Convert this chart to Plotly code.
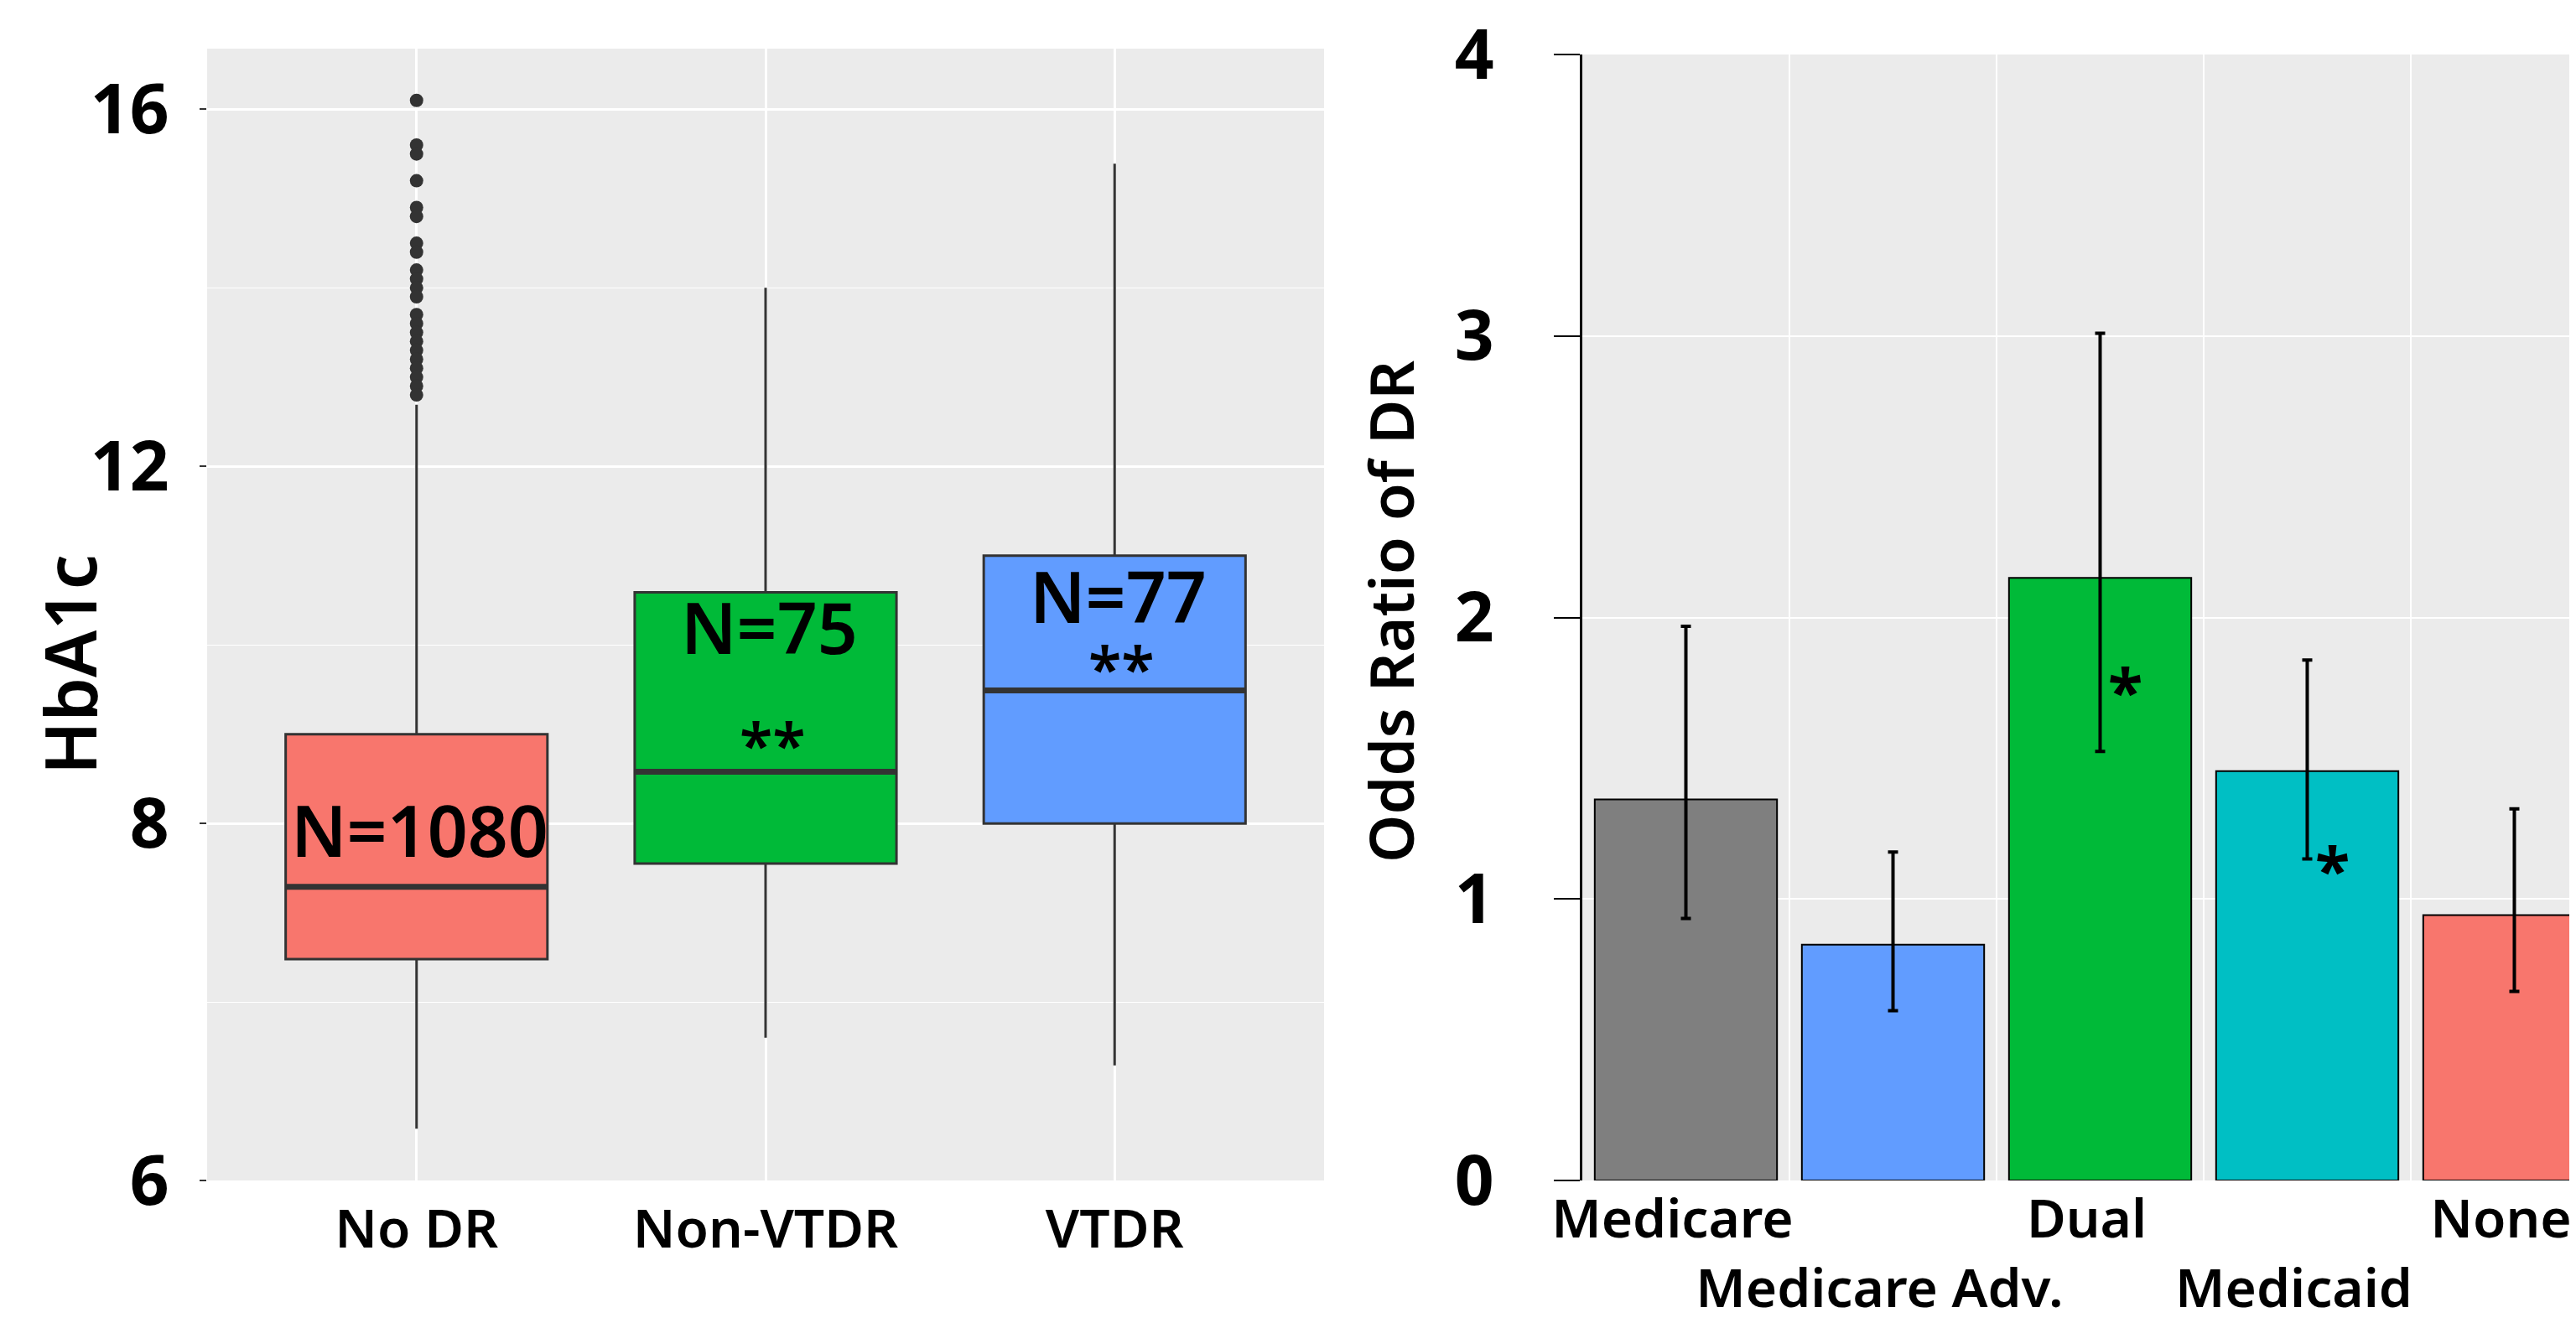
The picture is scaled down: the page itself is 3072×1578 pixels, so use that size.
import plotly.graph_objects as go

# ---------------- data: left panel (HbA1c box plots) ----------------
box_categories = ["No DR", "Non-VTDR", "VTDR"]
box_q1 = [6.48, 7.55, 8.00]
box_median = [7.29, 8.58, 9.49]
box_q3 = [9.00, 10.59, 11.00]
box_lower = [4.58, 5.60, 5.29]
box_upper = [12.69, 14.00, 15.39]
nodr_outliers = [16.1, 15.6, 15.5, 15.2, 14.9, 14.8, 14.5, 14.4, 14.2, 14.1, 14.0,
                 13.9, 13.7, 13.6, 13.5, 13.4, 13.3, 13.2, 13.1, 13.0, 12.9, 12.8]
n_labels = ["N=1080", "N=75", "N=77"]
sig_box = ["", "**", "**"]
left_tick_vals = [4, 8, 12, 16]
left_tick_text = ["6", "8", "12", "16"]
left_minor_vals = [6, 10, 14]

# ---------------- data: right panel (odds ratios) ----------------
or_categories = ["Medicare", "Medicare Adv.", "Dual", "Medicaid", "None"]
or_values = [1.354, 0.838, 2.141, 1.454, 0.943]
or_lower = [0.931, 0.603, 1.524, 1.142, 0.672]
or_upper = [1.969, 1.167, 3.010, 1.849, 1.320]
or_sig = ["", "", "*", "*", ""]
right_tick_vals = [0, 1, 2, 3, 4]

# ---------------- styling ----------------
box_colors = ["#F8766D", "#00BA38", "#619CFF"]
bar_colors = ["#7F7F7F", "#619CFF", "#00BA38", "#00BFC4", "#F8766D"]
n_label_y = [7.93, 10.20, 10.55]
sig_box_y = [0, 8.89, 9.75]
sig_bar_y = [0, 0, 1.745, 1.11, 0]
W, H = 3072, 1578
panel_bg = "#EBEBEB"
dark = "#333333"
label_font = "Noto Sans"

fig = go.Figure()

# Boxes
for i, cat in enumerate(box_categories):
    fig.add_trace(go.Box(
        x=[i], q1=[box_q1[i]], median=[box_median[i]], q3=[box_q3[i]],
        lowerfence=[box_lower[i]], upperfence=[box_upper[i]],
        fillcolor=box_colors[i], line=dict(color=dark, width=3),
        width=0.75, whiskerwidth=0, boxpoints=False,
        showlegend=False, hoverinfo="skip", xaxis="x", yaxis="y"))
    # thicker median line
    fig.add_trace(go.Scatter(
        x=[i - 0.375, i + 0.375], y=[box_median[i], box_median[i]],
        mode="lines", line=dict(color=dark, width=7),
        showlegend=False, hoverinfo="skip", xaxis="x", yaxis="y"))

# Outliers
fig.add_trace(go.Scatter(
    x=[0] * len(nodr_outliers), y=nodr_outliers, mode="markers",
    marker=dict(color=dark, size=16), showlegend=False, hoverinfo="skip",
    xaxis="x", yaxis="y"))

# Bars
fig.add_trace(go.Bar(
    x=list(range(len(or_categories))), y=or_values,
    marker=dict(color=bar_colors, line=dict(color="black", width=2)),
    width=0.88,
    error_y=dict(type="data", symmetric=False,
                 array=[u - v for u, v in zip(or_upper, or_values)],
                 arrayminus=[v - l for v, l in zip(or_values, or_lower)],
                 color="black", thickness=4, width=6),
    showlegend=False, hoverinfo="skip", xaxis="x2", yaxis="y2"))

annotations = []
for i, t in enumerate(n_labels):
    annotations.append(dict(x=i + 0.01, y=n_label_y[i], xref="x", yref="y", text=t,
                            showarrow=False, xanchor="center", yanchor="middle",
                            font=dict(family=label_font, size=84, color="black", weight=600)))
for i, t in enumerate(sig_box):
    if t:
        annotations.append(dict(x=i + 0.02, y=sig_box_y[i], xref="x", yref="y", text=t,
                                showarrow=False, xanchor="center", yanchor="middle",
                                font=dict(family=label_font, size=72, color="black", weight=600)))
for i, t in enumerate(or_sig):
    if t:
        annotations.append(dict(x=i + 0.12, y=sig_bar_y[i], xref="x2", yref="y2", text=t,
                                showarrow=False, xanchor="center", yanchor="middle",
                                font=dict(family=label_font, size=76,
                                          color="black", weight="bold")))

annotations.append(dict(x=74 / W, y=1 - 785 / H, xref="paper", yref="paper", text="HbA1c",
                        textangle=-90, showarrow=False, xanchor="center", yanchor="middle",
                        font=dict(family="Noto Sans", size=84, color="black", weight=600)))
annotations.append(dict(x=1650 / W, y=1 - 722 / H, xref="paper", yref="paper", text="Odds Ratio of DR",
                        textangle=-90, showarrow=False, xanchor="center", yanchor="middle",
                        font=dict(family="Noto Sans", size=73, color="black", weight=600)))

right_tick_text = [("<br>" + c) if k % 2 else c for k, c in enumerate(or_categories)]

fig.update_layout(
    width=W, height=H,
    margin=dict(l=0, r=0, t=0, b=0, autoexpand=False),
    paper_bgcolor="white", plot_bgcolor=panel_bg,
    annotations=annotations,
    xaxis=dict(domain=[239 / W, 1571 / W], range=[-0.6, 2.6], automargin=False,
               tickvals=list(range(len(box_categories))), ticktext=box_categories,
               tickangle=0,
               showgrid=True, gridcolor="white", gridwidth=2.5,
               zeroline=False, showline=False, ticks="",
               ticklabelstandoff=15,
               tickfont=dict(family="Noto Sans", size=64, color="black", weight=600)),
    yaxis=dict(domain=[1 - 1400 / H, 1 - 50 / H], range=[4.0, 16.68], automargin=False,
               tickvals=left_tick_vals, ticktext=left_tick_text,
               showgrid=True, gridcolor="white", gridwidth=2.5,
               minor=dict(tickvals=left_minor_vals, showgrid=True, gridcolor="white",
                          gridwidth=1.2, ticks=""),
               zeroline=False, showline=False,
               ticks="outside", ticklen=8, tickwidth=2, tickcolor=dark,
               ticklabelstandoff=20,
               tickfont=dict(family="Noto Sans", size=82, color="black", weight="bold")),
    xaxis2=dict(domain=[1879 / W, 1.0], range=[-0.5, 4.33], anchor="y2", automargin=False,
                tickvals=list(range(len(or_categories))), ticktext=right_tick_text,
                tickangle=0, ticklabeloverflow="allow", ticklabelshift=-16,
                showgrid=False, zeroline=False, showline=False, ticks="",
                minor=dict(tickvals=[0.5, 1.5, 2.5, 3.5], showgrid=True,
                           gridcolor="white", gridwidth=2, ticks=""),
                ticklabelstandoff=3,
                tickfont=dict(family="Noto Sans", size=64, color="black", weight=600)),
    yaxis2=dict(domain=[1 - 1400 / H, 1 - 57 / H], range=[0, 4], anchor="x2", automargin=False,
                tickvals=right_tick_vals, ticklabeloverflow="allow",
                showgrid=True, gridcolor="white", gridwidth=2,
                zeroline=False, showline=True, linecolor="black", linewidth=3,
                ticks="outside", ticklen=31, tickwidth=2, tickcolor="black",
                ticklabelstandoff=55,
                tickfont=dict(family="Noto Sans", size=82, color="black", weight="bold")),
)

fig.write_html("out.html")
